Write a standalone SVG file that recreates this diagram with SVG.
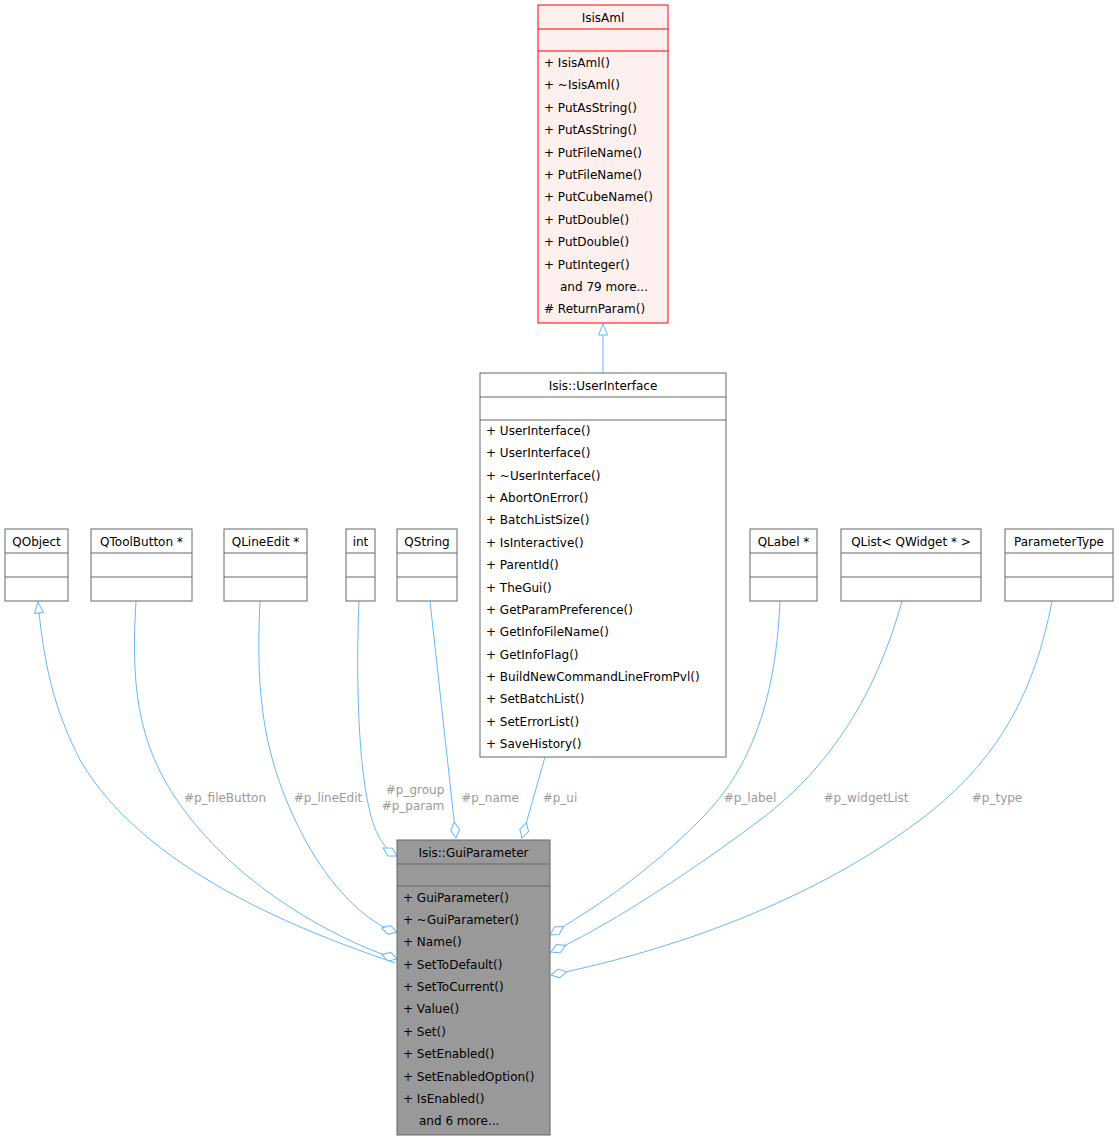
<svg xmlns="http://www.w3.org/2000/svg" width="1119" height="1141" viewBox="0 0 1119 1141">
<defs>
<style>
text{font-family:"DejaVu Sans",sans-serif;font-size:12px;fill:#000}
.c{text-anchor:middle}
.box{fill:#fff;stroke:#666;stroke-width:1}
.e{fill:none;stroke:#63b8ff;stroke-width:1}
.lbl{fill:#9a9a9a;text-anchor:middle}
</style>
<marker id="dia" markerUnits="userSpaceOnUse" viewBox="-1 -5 18 10" refX="16" refY="0" markerWidth="18" markerHeight="10" orient="auto">
<path d="M0,0 L8,-4.5 L16,0 L8,4.5 Z" fill="#fff" stroke="#63b8ff"/>
</marker>
<marker id="tri" markerUnits="userSpaceOnUse" viewBox="-1 -6 13 12" refX="11" refY="0" markerWidth="13" markerHeight="12" orient="auto">
<path d="M0,-4.5 L11,0 L0,4.5 Z" fill="#fff" stroke="#63b8ff"/>
</marker>
</defs>
<rect width="1119" height="1141" fill="#fff"/>
<g id="edges">
<path class="e" d="M603,372 L603,324" marker-end="url(#tri)"/>
<path class="e" d="M395,963 C330,940 150,880 80,760 C60,720 45,680 38,602" marker-end="url(#tri)"/>
<path class="e" d="M136,601 C130,700 140,760 200,830 C260,900 350,945 397,959" marker-end="url(#dia)"/>
<path class="e" d="M260,601 C255,700 265,760 300,830 C330,890 370,925 397,932" marker-end="url(#dia)"/>
<path class="e" d="M359,601 C355,700 360,800 378,835 C385,848 390,852 397,856" marker-end="url(#dia)"/>
<path class="e" d="M430,601 L456,838" marker-end="url(#dia)"/>
<path class="e" d="M545,757 L522,838" marker-end="url(#dia)"/>
<path class="e" d="M780,601 C775,720 740,780 700,820 C640,880 590,910 550,935" marker-end="url(#dia)"/>
<path class="e" d="M902,601 C880,680 840,760 760,820 C680,880 600,930 551,952" marker-end="url(#dia)"/>
<path class="e" d="M1052,601 C1035,690 1000,760 920,820 C800,910 650,955 551,975" marker-end="url(#dia)"/>
<text class="lbl" x="225" y="802">#p_fileButton</text>
<text class="lbl" x="328" y="802">#p_lineEdit</text>
<text class="lbl" x="415" y="794">#p_group</text>
<text class="lbl" x="413" y="810">#p_param</text>
<text class="lbl" x="490" y="802">#p_name</text>
<text class="lbl" x="560" y="802">#p_ui</text>
<text class="lbl" x="750" y="802">#p_label</text>
<text class="lbl" x="866" y="802">#p_widgetList</text>
<text class="lbl" x="997" y="802">#p_type</text>
</g>
<g id="IsisAml">
<rect x="538" y="5" width="130" height="318" fill="#fff0f0" stroke="#f00"/>
<line x1="538" y1="29" x2="668" y2="29" stroke="#f00"/>
<line x1="538" y1="51" x2="668" y2="51" stroke="#f00"/>
<text class="c" x="603" y="22">IsisAml</text>
<text x="544" y="67">+  IsisAml()</text>
<text x="544" y="89">+  ~IsisAml()</text>
<text x="544" y="112">+  PutAsString()</text>
<text x="544" y="134">+  PutAsString()</text>
<text x="544" y="157">+  PutFileName()</text>
<text x="544" y="179">+  PutFileName()</text>
<text x="544" y="201">+  PutCubeName()</text>
<text x="544" y="224">+  PutDouble()</text>
<text x="544" y="246">+  PutDouble()</text>
<text x="544" y="269">+  PutInteger()</text>
<text x="560" y="291">and 79 more...</text>
<text x="544" y="313">#  ReturnParam()</text>
</g>
<g id="UserInterface">
<rect class="box" x="480" y="373" width="246" height="384"/>
<line x1="480" y1="397" x2="726" y2="397" stroke="#666"/>
<line x1="480" y1="420" x2="726" y2="420" stroke="#666"/>
<text class="c" x="603" y="390">Isis::UserInterface</text>
<text x="486" y="435">+  UserInterface()</text>
<text x="486" y="457">+  UserInterface()</text>
<text x="486" y="480">+  ~UserInterface()</text>
<text x="486" y="502">+  AbortOnError()</text>
<text x="486" y="524">+  BatchListSize()</text>
<text x="486" y="547">+  IsInteractive()</text>
<text x="486" y="569">+  ParentId()</text>
<text x="486" y="592">+  TheGui()</text>
<text x="486" y="614">+  GetParamPreference()</text>
<text x="486" y="636">+  GetInfoFileName()</text>
<text x="486" y="659">+  GetInfoFlag()</text>
<text x="486" y="681">+  BuildNewCommandLineFromPvl()</text>
<text x="486" y="703">+  SetBatchList()</text>
<text x="486" y="726">+  SetErrorList()</text>
<text x="486" y="748">+  SaveHistory()</text>
</g>
<g id="QObject"><rect class="box" x="5" y="529" width="63" height="72"/><line x1="5" y1="553" x2="68" y2="553" stroke="#666"/><line x1="5" y1="577" x2="68" y2="577" stroke="#666"/><text class="c" x="36.5" y="546">QObject</text></g>
<g id="QToolButton"><rect class="box" x="91" y="529" width="101" height="72"/><line x1="91" y1="553" x2="192" y2="553" stroke="#666"/><line x1="91" y1="577" x2="192" y2="577" stroke="#666"/><text class="c" x="141.5" y="546">QToolButton *</text></g>
<g id="QLineEdit"><rect class="box" x="224" y="529" width="83" height="72"/><line x1="224" y1="553" x2="307" y2="553" stroke="#666"/><line x1="224" y1="577" x2="307" y2="577" stroke="#666"/><text class="c" x="265.5" y="546">QLineEdit *</text></g>
<g id="int"><rect class="box" x="346" y="529" width="29" height="72"/><line x1="346" y1="553" x2="375" y2="553" stroke="#666"/><line x1="346" y1="577" x2="375" y2="577" stroke="#666"/><text class="c" x="360.5" y="546">int</text></g>
<g id="QString"><rect class="box" x="397" y="529" width="60" height="72"/><line x1="397" y1="553" x2="457" y2="553" stroke="#666"/><line x1="397" y1="577" x2="457" y2="577" stroke="#666"/><text class="c" x="427" y="546">QString</text></g>
<g id="QLabel"><rect class="box" x="750" y="529" width="67" height="72"/><line x1="750" y1="553" x2="817" y2="553" stroke="#666"/><line x1="750" y1="577" x2="817" y2="577" stroke="#666"/><text class="c" x="783.5" y="546">QLabel *</text></g>
<g id="QList"><rect class="box" x="841" y="529" width="140" height="72"/><line x1="841" y1="553" x2="981" y2="553" stroke="#666"/><line x1="841" y1="577" x2="981" y2="577" stroke="#666"/><text class="c" x="911" y="546">QList&lt; QWidget * &gt;</text></g>
<g id="ParameterType"><rect class="box" x="1005" y="529" width="108" height="72"/><line x1="1005" y1="553" x2="1113" y2="553" stroke="#666"/><line x1="1005" y1="577" x2="1113" y2="577" stroke="#666"/><text class="c" x="1059" y="546">ParameterType</text></g>
<g id="GuiParameter">
<rect x="397" y="840" width="153" height="295" fill="#999" stroke="#666"/>
<line x1="397" y1="864" x2="550" y2="864" stroke="#666"/>
<line x1="397" y1="886" x2="550" y2="886" stroke="#666"/>
<text class="c" x="473.5" y="857">Isis::GuiParameter</text>
<text x="403" y="902">+  GuiParameter()</text>
<text x="403" y="924">+  ~GuiParameter()</text>
<text x="403" y="946">+  Name()</text>
<text x="403" y="969">+  SetToDefault()</text>
<text x="403" y="991">+  SetToCurrent()</text>
<text x="403" y="1013">+  Value()</text>
<text x="403" y="1036">+  Set()</text>
<text x="403" y="1058">+  SetEnabled()</text>
<text x="403" y="1081">+  SetEnabledOption()</text>
<text x="403" y="1103">+  IsEnabled()</text>
<text x="419" y="1125">and 6 more...</text>
</g>
</svg>
